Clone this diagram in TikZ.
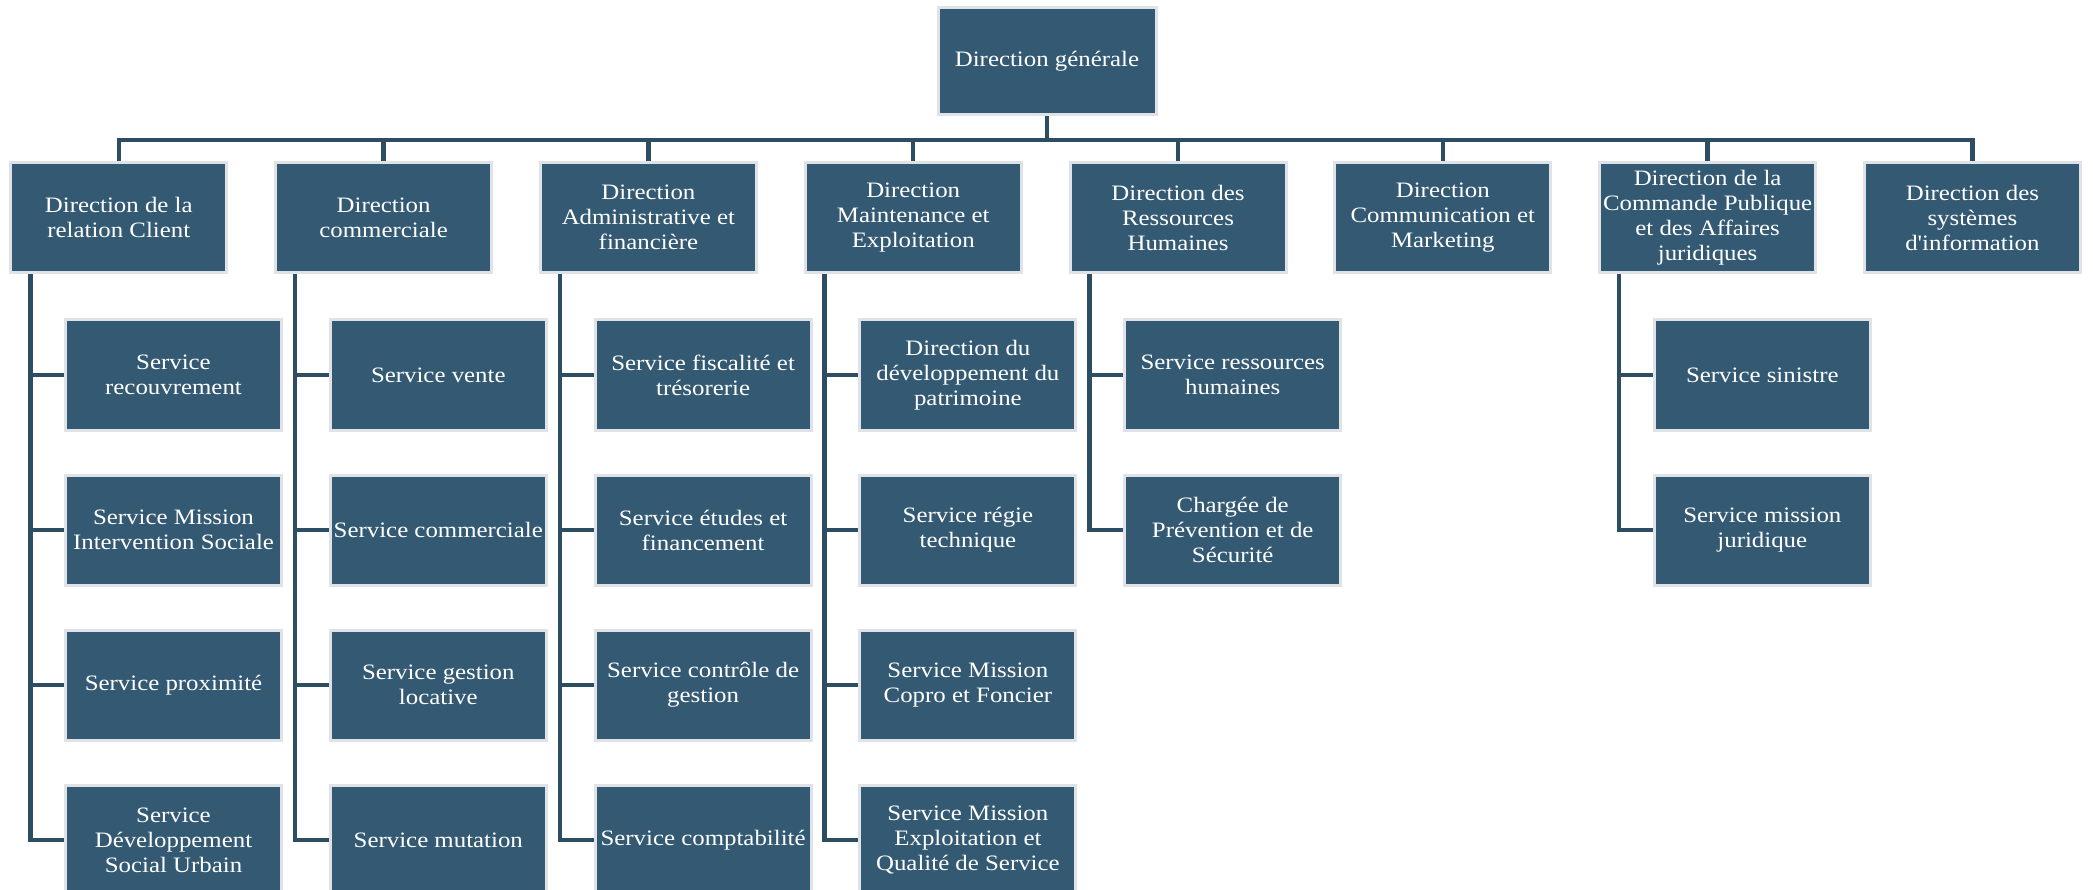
\documentclass[tikz,border=0pt]{standalone}
\usepackage{fontspec}
\setmainfont{Liberation Serif}[FakeStretch=1.13]
\newfontfamily\plainquote{Liberation Serif}[FakeStretch=1.13]
\begin{document}
\begin{tikzpicture}[x=1pt,y=-1pt,
  box/.style={rectangle, fill=boxfill, draw=boxedge, line width=3pt,
    minimum width=216pt, minimum height=110pt, inner sep=2pt, align=center,
    text=white, font=\fontsize{22}{25}\selectfont},
  sbox/.style={box, minimum height=110pt},
  conn/.style={draw=linecol, line width=4.5pt}]
\definecolor{boxfill}{HTML}{345A73}
\definecolor{boxedge}{HTML}{DFE3E7}
\definecolor{linecol}{HTML}{2D4D63}
\useasboundingbox (0,0) rectangle (2093,890);
% top
\node[box, minimum width=218pt, minimum height=107pt] (dg) at (1047,61.5) {Direction générale};
% level 1
\node[box] (d1) at (118.8,217.5) {Direction de la\\relation Client};
\node[box] (d2) at (383.6,217.5) {Direction\\commerciale};
\node[box] (d3) at (648.4,217.5) {Direction\\Administrative et\\financière};
\node[box] (d4) at (913.2,217.5) {Direction\\Maintenance et\\Exploitation};
\node[box] (d5) at (1178.0,217.5) {Direction des\\Ressources\\Humaines};
\node[box] (d6) at (1442.8,217.5) {Direction\\Communication et\\Marketing};
\node[box] (d7) at (1707.6,217.5) {Direction de la\\Commande Publique\\et des Affaires\\juridiques};
\node[box] (d8) at (1972.4,217.5) {Direction des\\systèmes\\d{\plainquote'}information};
% column 1
\node[sbox] (s11) at (173.5,375) {Service\\recouvrement};
\node[sbox] (s12) at (173.5,530) {Service Mission\\Intervention Sociale};
\node[sbox] (s13) at (173.5,685) {Service proximité};
\node[sbox] (s14) at (173.5,840) {Service\\Développement\\Social Urbain};
% column 2
\node[sbox] (s21) at (438.3,375) {Service vente};
\node[sbox] (s22) at (438.3,530) {Service commerciale};
\node[sbox] (s23) at (438.3,685) {Service gestion\\locative};
\node[sbox] (s24) at (438.3,840) {Service mutation};
% column 3
\node[sbox] (s31) at (703.1,375) {Service fiscalité et\\trésorerie};
\node[sbox] (s32) at (703.1,530) {Service études et\\financement};
\node[sbox] (s33) at (703.1,685) {Service contrôle de\\gestion};
\node[sbox] (s34) at (703.1,840) {Service comptabilité};
% column 4
\node[sbox] (s41) at (967.9,375) {Direction du\\développement du\\patrimoine};
\node[sbox] (s42) at (967.9,530) {Service régie\\technique};
\node[sbox] (s43) at (967.9,685) {Service Mission\\Copro et Foncier};
\node[sbox] (s44) at (967.9,840) {Service Mission\\Exploitation et\\Qualité de Service};
% column 5
\node[sbox] (s51) at (1232.7,375) {Service ressources\\humaines};
\node[sbox] (s52) at (1232.7,530) {Chargée de\\Prévention et de\\Sécurité};
% column 7
\node[sbox] (s71) at (1762.3,375) {Service sinistre};
\node[sbox] (s72) at (1762.3,530) {Service mission\\juridique};
% bus
\foreach \d in {d1,d2,d3,d4,d5,d6,d7,d8}
  \draw[conn] (dg.south) -- ++(0,23.5) -| (\d.north);
% trunks
\coordinate (t1) at ([xshift=21pt]d1.south west);
\coordinate (t2) at ([xshift=21pt]d2.south west);
\coordinate (t3) at ([xshift=21pt]d3.south west);
\coordinate (t4) at ([xshift=21pt]d4.south west);
\coordinate (t5) at ([xshift=21pt]d5.south west);
\coordinate (t7) at ([xshift=21pt]d7.south west);
\draw[conn] (t1) |- (s14.west);
\draw[conn] (t2) |- (s24.west);
\draw[conn] (t3) |- (s34.west);
\draw[conn] (t4) |- (s44.west);
\draw[conn] (t5) |- (s52.west);
\draw[conn] (t7) |- (s72.west);
\foreach \t/\s in {t1/s11,t1/s12,t1/s13,t2/s21,t2/s22,t2/s23,t3/s31,t3/s32,t3/s33,t4/s41,t4/s42,t4/s43,t5/s51,t7/s71}
  \draw[conn] (\t |- \s.west) -- (\s.west);
\end{tikzpicture}
\end{document}
